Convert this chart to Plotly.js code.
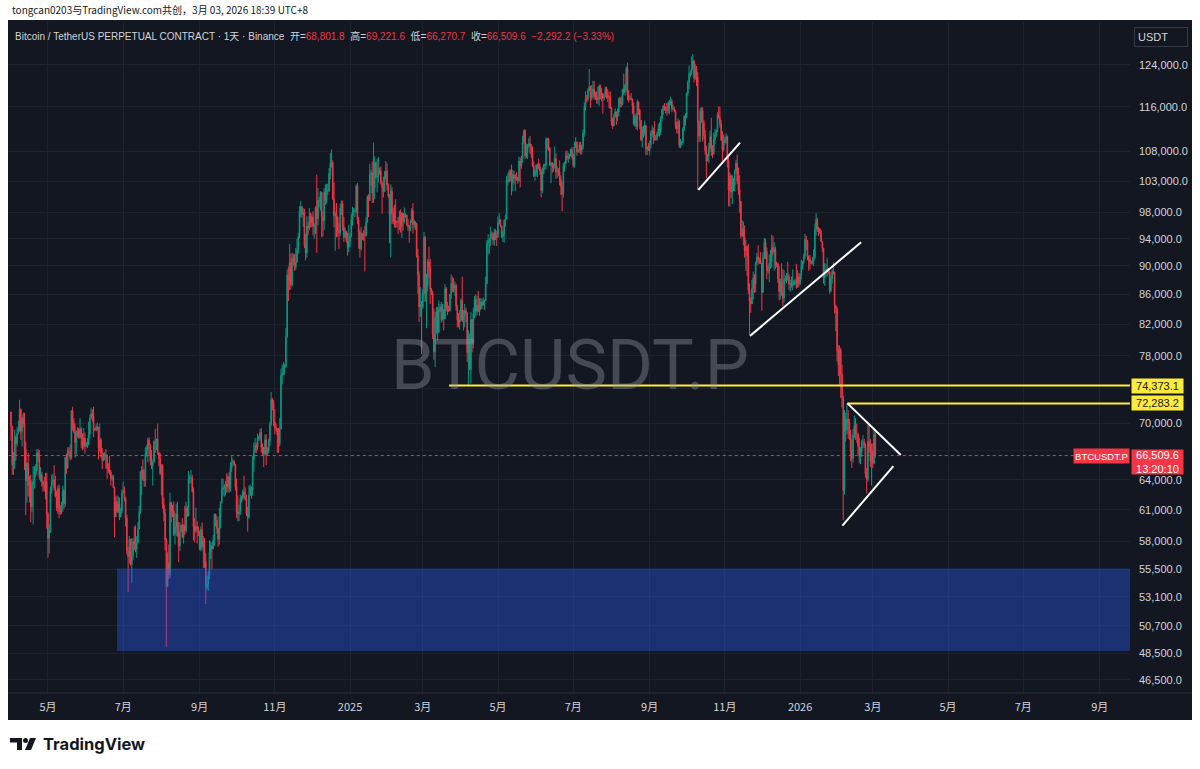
<!DOCTYPE html>
<html>
<head>
<meta charset="utf-8">
<script src="https://cdn.plot.ly/plotly-3.0.1.min.js"></script>
<style>
  html,body{margin:0;padding:0;background:#ffffff;}
  #chart{width:1200px;height:769px;}
</style>
</head>
<body>
<div id="chart"></div>
<script>
// ---------- DATA (daily candles, prices in thousands of USDT) ----------
const startDate = '2024-04-01';
const firstOpenK = 71.3;

const closeK = [
// 2024-04
69.7,65.5,65.9,68.5,67.8,68.9,69.4,71.6,69.1,70.6,70.0,67.2,63.9,65.7,63.4,63.8,61.3,63.5,63.8,64.9,64.9,66.8,66.4,64.3,64.5,63.8,63.5,63.1,63.8,60.6,
// 2024-05
58.3,59.1,62.9,63.9,64.0,63.2,62.3,61.2,63.1,60.8,60.8,61.5,62.9,61.6,66.3,65.2,67.0,66.9,66.3,71.4,70.1,69.1,67.9,68.5,69.3,68.5,69.4,68.4,67.6,68.4,67.5,
// 2024-06
67.8,67.8,68.8,70.6,71.1,70.8,69.3,69.3,69.6,69.5,67.3,68.2,66.8,66.0,66.2,66.6,66.5,65.2,65.0,64.8,64.1,64.3,63.2,60.3,61.8,60.8,61.6,60.3,60.9,62.7,
// 2024-07
62.9,62.1,60.2,57.1,56.6,58.2,55.9,56.7,58.0,57.7,57.3,57.9,59.2,60.8,64.8,65.0,64.1,63.9,66.7,67.1,68.2,67.6,65.9,65.4,65.8,68.0,67.9,68.3,66.8,66.2,64.6,
// 2024-08
65.4,61.5,60.7,58.1,54.0,56.0,55.0,61.7,60.9,60.9,58.7,59.4,60.6,58.7,57.6,58.9,59.5,58.4,59.5,59.0,61.2,60.4,64.1,64.2,64.2,62.8,59.4,59.0,59.4,59.1,58.9,
// 2024-09
57.3,59.1,57.5,58.0,56.2,53.9,54.2,54.9,57.0,57.6,57.3,58.1,60.6,60.0,59.2,58.2,60.3,61.8,63.0,63.2,63.3,63.6,63.3,64.3,63.1,65.2,65.8,65.9,65.6,63.3,
// 2024-10
60.8,60.6,60.8,62.1,62.1,62.8,62.2,62.1,60.6,60.3,62.4,63.2,62.9,66.1,67.0,67.6,67.4,68.4,68.4,69.0,67.4,67.4,66.7,68.2,66.6,67.0,68.0,69.9,72.7,72.3,70.2,
// 2024-11
69.5,69.4,68.7,67.8,69.4,75.6,75.9,76.5,76.7,80.4,88.7,87.9,90.5,87.3,91.1,90.6,89.8,90.5,92.3,94.3,98.3,98.9,97.7,98.0,93.0,91.9,95.9,95.6,97.5,96.4,
// 2024-12
97.3,95.9,96.0,98.8,97.0,99.9,99.9,101.2,97.4,96.7,101.2,100.0,101.5,101.4,104.3,106.1,106.1,100.2,97.5,97.8,97.3,95.2,94.9,98.7,99.4,95.8,94.2,95.1,93.7,92.8,93.6,
// 2025-01
94.4,96.9,98.1,98.2,98.3,102.2,96.9,95.0,92.5,94.7,94.5,94.5,94.5,96.5,100.5,99.9,104.1,104.4,101.1,102.0,106.1,103.7,103.9,104.8,104.7,102.6,102.0,101.3,103.7,104.7,102.4,
// 2025-02
100.6,97.7,101.4,97.9,96.6,96.5,96.5,96.5,96.5,97.4,95.8,97.9,96.6,97.5,97.6,96.1,95.8,95.6,96.6,98.3,96.1,96.6,96.3,91.5,88.7,84.3,84.7,84.3,
// 2025-03
86.1,94.2,86.1,87.2,90.6,89.9,86.7,86.2,80.7,78.5,82.9,83.7,81.0,83.9,84.3,82.6,84.0,82.7,86.8,84.2,84.0,83.8,86.0,87.5,87.4,86.9,87.2,84.4,82.6,82.3,82.5,
// 2025-04
85.2,82.5,83.1,83.8,83.5,78.4,79.2,76.3,82.6,79.6,83.4,85.3,83.7,84.6,83.7,84.0,84.9,84.5,85.1,85.2,87.5,93.4,93.7,93.9,94.7,94.6,93.8,94.9,94.3,94.2,
// 2025-05
96.5,96.9,95.9,94.3,94.7,96.8,97.0,103.2,103.0,104.6,104.1,102.8,104.1,103.5,103.7,103.5,103.1,106.4,105.6,106.8,109.6,111.7,107.3,107.8,109.0,109.4,108.9,107.8,105.6,103.9,104.6,
// 2025-06
105.7,105.9,105.4,104.7,101.5,104.3,105.6,105.7,110.2,110.2,108.6,105.7,106.1,105.4,105.5,106.8,104.6,104.8,104.6,103.3,102.1,100.9,105.5,106.0,107.3,106.9,107.1,107.3,108.4,107.1,
// 2025-07
105.7,108.8,109.6,108.0,108.2,109.2,108.2,108.9,111.3,116.0,117.5,117.4,119.1,119.8,117.7,118.7,119.3,117.9,117.9,117.3,117.4,119.9,118.7,118.4,117.6,117.9,119.4,118.1,117.9,117.8,115.8,
// 2025-08
113.3,112.5,114.2,115.1,114.1,115.0,117.5,116.6,116.5,119.3,118.7,120.1,123.3,118.3,117.4,117.5,117.4,116.2,112.9,114.3,112.4,116.9,115.4,113.5,110.1,111.8,111.2,112.6,108.4,108.8,108.2,
// 2025-09
109.2,111.2,111.7,110.7,110.2,110.2,111.1,112.0,111.5,113.9,115.5,116.1,115.9,115.3,115.3,116.7,116.4,117.1,115.6,115.7,115.2,112.6,112.0,113.3,109.0,109.6,109.6,112.1,114.3,114.0,
// 2025-10
118.6,120.6,122.3,122.4,123.5,124.8,121.4,123.3,121.7,113.2,110.7,115.2,115.3,113.1,110.8,108.2,106.4,107.2,108.6,110.6,108.5,107.6,110.1,111.0,111.7,114.5,114.1,112.9,110.0,108.3,109.6,
// 2025-11
110.1,110.6,106.5,101.5,103.9,101.3,103.4,102.3,104.7,106.0,103.0,101.6,99.7,94.4,95.5,94.2,92.2,92.9,91.5,86.6,85.1,84.7,86.8,88.3,87.4,90.5,91.3,90.9,90.8,90.4,
// 2025-12
86.3,91.3,93.5,92.1,89.4,89.3,90.4,90.6,92.7,92.0,92.5,90.3,90.3,88.2,86.4,87.8,86.2,85.5,88.1,88.3,88.6,88.5,87.4,87.6,87.2,87.3,87.8,87.9,87.1,88.4,87.5,
// 2026-01
88.7,90.0,90.6,91.4,93.9,93.7,91.3,91.0,90.5,90.4,90.8,91.2,95.4,96.9,95.5,95.5,95.1,93.6,92.6,88.3,89.4,89.5,89.5,89.2,86.5,88.2,89.2,89.1,84.5,84.1,78.6,
// 2026-02
76.9,78.7,75.7,73.0,62.9,70.5,69.3,70.5,70.1,68.8,67.0,66.2,68.8,69.8,68.8,68.8,67.5,66.4,66.9,67.9,68.0,67.6,64.6,64.0,68.0,67.5,65.9,67.0,
// 2026-03
65.7,68.8018,66.5096
];

const highK = [
// 2024-04
71.3,69.7,66.9,69.3,68.7,69.6,70.3,72.7,71.7,71.0,71.2,71.2,68.0,65.8,66.8,64.4,64.5,64.0,65.4,65.4,65.6,67.2,67.2,67.1,65.3,64.8,63.9,64.3,64.7,64.7,
// 2024-05
60.8,59.6,63.3,64.5,64.6,65.5,64.4,62.9,63.4,63.5,61.4,61.8,63.4,63.1,66.4,66.7,67.4,67.4,67.7,71.5,71.9,70.6,70.0,69.2,69.6,69.5,70.6,69.6,68.9,69.5,69.0,
// 2024-06
68.0,68.4,70.2,71.0,71.8,71.6,71.9,69.5,69.9,70.1,69.6,70.0,68.4,67.3,66.8,66.9,67.2,66.6,65.7,66.5,65.0,64.5,64.5,63.3,62.3,62.4,62.3,62.2,61.2,63.0,
// 2024-07
63.8,63.3,62.3,60.5,57.5,58.5,58.2,58.3,58.3,59.4,59.5,58.5,59.8,61.4,64.9,65.4,66.1,65.1,67.4,67.6,68.4,68.5,67.8,67.1,66.1,68.2,69.4,68.3,70.0,66.9,66.8,
// 2024-08
65.6,65.6,62.2,61.1,58.3,57.0,57.7,62.7,61.8,61.5,61.8,60.7,61.6,61.8,59.8,59.8,59.6,60.2,59.6,61.4,61.8,61.4,64.9,64.5,65.0,64.5,63.2,60.2,61.2,59.9,59.4,
// 2024-09
59.0,59.4,59.8,58.5,58.3,56.9,54.9,55.3,58.1,58.0,57.9,58.6,60.6,60.6,60.4,59.2,61.2,61.8,64.1,64.1,63.5,63.9,64.7,64.5,64.8,65.8,66.5,66.2,66.0,65.6,
// 2024-10
64.1,62.4,61.5,62.5,62.4,63.0,64.4,63.2,62.5,61.3,63.4,63.5,63.3,66.5,67.9,68.4,67.9,68.9,68.7,69.4,69.5,67.8,67.4,68.8,68.8,67.4,68.3,70.2,73.6,72.9,72.7,
// 2024-11
71.6,70.0,69.5,69.5,70.6,76.4,76.9,77.2,77.0,81.5,89.5,89.9,93.2,91.8,91.9,91.8,91.7,92.6,94.0,94.9,99.0,99.8,99.0,98.7,98.6,94.7,97.4,96.6,98.7,98.0,
// 2024-12
97.8,98.2,96.3,99.0,104.1,101.9,100.5,101.4,101.3,98.2,101.9,102.5,102.6,102.6,105.2,107.8,108.4,106.5,102.8,98.2,99.5,97.4,96.4,99.4,99.9,99.9,97.3,95.7,95.2,94.9,96.1,
// 2025-01
94.9,97.8,98.9,98.7,98.8,102.5,102.7,97.3,95.3,95.8,94.9,95.3,95.9,97.3,100.7,100.9,105.9,104.9,106.3,109.6,107.2,106.3,106.8,107.1,105.3,105.5,103.0,103.8,104.7,106.4,106.0,
// 2025-02
102.7,100.9,102.5,102.0,98.8,99.2,100.1,96.8,97.3,98.3,98.5,98.1,97.3,98.8,97.9,97.7,97.0,96.0,96.9,98.7,99.5,96.9,96.6,96.4,92.5,89.2,87.0,85.1,
// 2025-03
86.7,95.0,94.4,88.9,91.0,92.8,91.0,86.9,86.5,84.1,83.6,84.3,84.3,85.2,84.7,85.0,84.7,84.0,87.4,87.0,85.0,84.5,86.1,88.8,88.5,88.3,87.8,87.5,84.6,83.5,83.9,
// 2025-04
85.5,88.5,83.9,84.7,84.2,83.6,81.2,80.8,83.6,82.7,84.2,85.8,86.0,85.8,86.5,85.5,85.5,85.4,85.6,85.3,88.5,93.8,94.7,94.0,95.8,95.1,95.0,95.5,95.4,95.2,
// 2025-05
97.4,97.9,96.9,96.0,95.2,96.9,97.7,103.9,104.3,104.9,105.0,105.8,104.9,104.7,104.2,104.5,103.7,107.1,107.0,107.3,110.8,111.9,111.9,109.4,109.3,110.4,110.7,109.3,108.9,106.3,105.0,
// 2025-06
105.8,105.9,106.8,106.0,105.0,105.3,105.9,106.0,110.5,110.4,110.4,108.8,106.2,106.2,106.0,108.9,107.7,105.5,105.2,106.5,104.0,103.0,106.1,106.3,108.1,108.2,107.8,107.6,108.5,108.8,
// 2025-07
107.6,109.7,110.5,109.8,108.4,109.7,109.7,109.2,111.9,116.8,118.9,118.2,119.5,123.2,119.9,120.1,120.9,120.9,118.8,118.9,119.7,120.2,120.2,119.5,118.6,118.5,119.8,119.8,119.3,118.8,118.9,
// 2025-08
116.0,114.0,114.7,115.7,115.1,115.7,117.7,117.9,117.9,119.3,122.3,120.3,123.7,124.5,119.2,118.0,118.6,117.6,116.8,114.6,114.8,117.4,117.0,115.6,113.6,112.4,112.6,113.5,112.6,108.9,109.5,
// 2025-09
109.9,111.7,112.6,112.2,113.4,110.9,111.5,112.9,113.2,114.3,115.6,116.3,116.7,116.1,116.7,117.0,117.3,117.9,117.5,116.4,116.0,115.4,113.3,113.9,113.6,110.2,109.8,112.3,114.4,114.8,
// 2025-10
118.7,121.0,123.9,122.9,125.7,126.2,125.1,124.2,123.8,122.6,113.5,115.8,116.0,115.9,113.6,111.8,109.0,107.6,109.5,111.7,114.0,109.1,111.3,112.0,111.8,115.0,116.1,116.0,113.6,111.6,111.0,
// 2025-11
110.6,111.2,110.8,107.3,104.5,104.2,104.0,103.5,105.0,106.6,107.5,105.3,104.0,99.8,96.8,96.6,96.0,93.8,92.9,93.2,87.5,85.6,88.0,89.2,88.8,90.6,91.9,93.0,91.2,92.0,
// 2025-12
90.4,92.0,94.1,94.0,92.7,90.0,91.7,92.3,94.6,94.4,93.5,92.8,90.6,90.5,90.0,88.2,90.4,89.5,89.4,88.6,89.0,90.6,88.9,88.0,88.5,89.5,88.0,88.2,90.3,89.4,89.0,
// 2026-01
88.9,90.9,90.7,91.8,94.7,94.4,93.6,91.5,91.6,90.8,91.3,92.4,96.3,97.9,97.2,95.8,95.6,95.3,93.5,92.6,90.4,90.3,91.2,89.7,89.2,88.6,89.5,90.5,89.2,84.6,84.3,
// 2026-02
79.3,79.3,79.0,76.9,73.2,71.5,71.2,72.28,71.5,70.5,69.3,68.3,69.4,70.9,70.6,70.0,69.0,68.4,67.4,68.2,68.7,68.3,67.8,65.2,69.9,70.0,68.3,67.8,
// 2026-03
67.8,69.5,69.2216
];

const lowK = [
// 2024-04
68.1,64.5,64.5,65.1,66.0,67.5,68.8,69.1,68.2,67.5,69.6,65.0,60.5,61.7,62.3,61.7,59.8,60.8,59.6,63.1,64.3,64.5,65.8,64.0,63.8,63.3,62.8,62.8,62.0,59.2,
// 2024-05
56.5,56.9,58.8,62.6,63.4,62.9,62.2,60.9,60.6,60.2,60.5,60.6,60.8,61.1,61.3,64.6,65.1,66.6,66.0,66.1,69.2,68.9,66.3,66.6,68.5,68.3,68.3,67.3,67.1,67.2,66.7,
// 2024-06
67.4,67.3,67.6,68.4,70.4,70.2,68.5,69.2,69.1,69.2,66.1,66.9,66.3,65.1,65.9,66.0,65.1,64.1,64.7,64.5,63.4,63.9,63.2,58.4,60.3,60.7,60.7,60.0,60.4,60.7,
// 2024-07
62.6,61.8,59.4,56.8,53.5,56.0,55.8,54.3,56.3,57.2,57.0,56.5,57.8,59.5,60.6,62.4,63.9,63.3,63.3,66.4,65.8,66.6,65.5,65.1,63.4,65.8,66.8,67.1,66.6,65.4,64.5,
// 2024-08
62.4,61.1,59.9,57.2,49.0,54.0,54.6,54.7,59.8,60.3,58.5,57.7,58.5,58.4,56.1,57.1,58.9,58.3,57.8,58.6,58.8,60.3,60.4,63.6,63.6,62.7,58.1,57.9,58.8,57.8,58.5,
// 2024-09
57.2,57.1,57.2,55.6,55.6,52.5,53.7,53.6,54.6,56.4,55.5,57.3,57.6,59.4,58.7,57.5,57.7,59.2,61.6,62.4,62.3,62.4,62.7,62.7,62.7,62.8,64.8,65.4,65.4,62.9,
// 2024-10
60.2,59.9,59.9,60.5,61.7,61.9,62.1,61.9,60.4,58.9,60.1,62.4,62.1,62.4,64.8,66.8,66.8,67.1,68.1,68.1,66.8,66.6,65.3,66.5,65.5,66.6,66.8,67.5,69.7,71.5,69.7,
// 2024-11
68.8,69.1,66.8,66.8,67.5,69.3,74.5,75.6,75.7,76.5,80.2,85.1,86.6,86.7,87.1,90.1,89.3,89.4,90.9,91.8,94.1,97.2,97.2,95.8,92.6,90.8,91.2,94.6,95.3,95.7,
// 2024-12
95.7,94.5,94.0,94.7,91.9,96.0,98.8,98.3,94.2,94.3,95.3,99.2,99.4,100.8,101.3,103.3,105.3,100.0,95.7,92.2,94.2,94.3,92.5,94.4,97.6,95.2,93.5,94.1,93.4,91.5,92.0,
// 2025-01
92.7,94.2,96.0,97.5,97.3,97.9,96.2,92.5,91.2,92.2,93.8,93.7,89.2,94.3,96.5,97.3,100.0,102.3,99.5,99.5,100.1,103.4,101.2,102.8,104.1,102.5,97.8,100.4,101.3,103.3,101.5,
// 2025-02
100.3,93.3,91.2,96.2,96.2,95.7,95.6,95.7,94.7,95.3,94.9,94.1,95.2,96.3,97.2,96.0,95.2,93.4,95.1,96.4,94.8,95.6,95.3,91.2,86.1,82.3,83.0,78.2,
// 2025-03
84.0,85.0,85.0,81.5,86.4,88.3,84.7,85.9,80.1,77.5,76.6,80.8,79.9,80.8,83.6,82.2,82.5,81.2,82.7,83.7,83.2,83.6,83.7,85.4,86.3,86.3,85.8,83.8,81.6,81.6,81.3,
// 2025-04
82.4,82.3,81.2,81.6,82.3,77.2,74.37,76.2,74.6,78.4,78.9,82.8,83.0,83.2,83.6,83.1,83.9,84.0,84.5,83.9,85.1,87.6,91.7,91.7,92.9,93.9,93.1,92.9,93.8,92.9,
// 2025-05
94.2,96.2,95.7,94.1,93.5,93.4,95.8,96.9,102.3,102.8,103.1,100.7,101.4,102.5,101.4,103.1,102.6,103.0,102.0,105.1,106.1,109.3,106.7,106.9,106.7,108.7,107.6,106.9,105.4,103.7,103.1,
// 2025-06
103.8,103.7,105.0,104.1,100.4,101.1,104.2,104.9,105.1,108.3,108.1,105.6,102.7,104.4,104.6,105.1,103.4,103.6,103.9,102.3,100.8,98.2,100.4,104.6,105.9,106.5,106.1,106.7,107.2,106.7,
// 2025-07
105.3,105.3,108.6,107.3,107.8,107.8,107.5,107.5,108.4,110.6,115.3,116.8,117.0,118.9,115.8,117.2,117.6,117.3,117.3,116.6,116.5,116.2,117.4,117.0,114.7,117.2,117.8,117.5,116.9,115.8,115.6,
// 2025-08
112.6,112.0,112.7,114.0,112.7,113.4,114.3,115.9,115.9,116.3,118.2,118.1,118.9,117.2,116.8,117.2,117.2,114.7,112.6,112.4,111.9,111.7,114.5,112.0,109.8,108.7,110.5,110.8,107.4,107.4,108.1,
// 2025-09
107.3,108.6,110.5,109.3,109.9,109.9,109.9,110.7,110.6,110.9,113.3,114.5,115.3,114.8,114.4,114.8,114.6,116.3,115.0,115.4,115.0,112.0,111.2,111.1,108.6,108.6,109.0,109.2,111.6,112.6,
// 2025-10
113.9,118.0,119.3,121.6,122.0,123.0,120.6,121.1,119.9,101.6,109.6,109.7,113.1,109.7,110.1,107.5,103.5,106.4,106.1,108.0,107.3,106.9,107.5,109.3,110.5,111.4,113.8,112.2,109.9,106.3,108.0,
// 2025-11
109.2,109.5,105.3,99.0,98.9,100.3,99.3,101.4,101.4,104.3,102.5,100.8,98.0,94.0,94.6,93.0,91.2,89.3,88.6,86.1,80.6,83.5,84.7,85.3,86.2,86.3,90.1,90.2,90.3,90.3,
// 2025-12
83.8,86.2,91.0,91.0,88.1,88.9,87.7,89.6,89.8,91.6,89.3,89.6,89.8,87.6,85.2,85.3,85.8,84.4,84.9,87.8,87.6,87.9,86.6,86.4,86.9,86.6,87.3,87.4,86.8,86.9,87.0,
// 2026-01
87.3,88.1,89.5,90.3,91.0,92.3,90.8,89.3,89.5,90.2,90.2,90.0,91.0,94.5,95.0,94.4,94.7,93.5,92.0,87.5,87.2,88.5,88.5,88.9,86.1,86.3,87.5,88.8,83.4,81.1,77.3,
// 2026-02
75.5,74.5,72.9,71.8,60.0,62.5,68.0,68.8,68.3,68.2,65.9,65.2,65.8,68.4,68.2,67.9,66.6,65.7,65.6,66.4,67.3,67.3,64.2,62.6,63.8,66.8,65.3,63.4,
// 2026-03
65.2,65.6,66.2707
];

// Price scale ticks (labels hidden where the price tags cover them)
const yTickVals = [124000,116000,108000,103000,98000,94000,90000,86000,82000,78000,74000,70000,67000,64000,61000,58000,55500,53100,50700,48500,46500];
const yTickHidden = [74000, 67000];
// Time scale ticks
const xTickVals = ['2024-05-01','2024-07-01','2024-09-01','2024-11-01','2025-01-01','2025-03-01','2025-05-01','2025-07-01','2025-09-01','2025-11-01','2026-01-01','2026-03-01','2026-05-01','2026-07-01','2026-09-01'];
const xTickText = ['5月','7月','9月','11月','2025','3月','5月','7月','9月','11月','2026','3月','5月','7月','9月'];

// Drawings (date, price)
const zoneBox = {from:'2024-06-26', to:'2027-01-01', top:55550, bottom:48700};
const hLines = [
  {from:'2025-03-22 08:00', price:74373.1},
  {from:'2026-02-08 10:00', price:72283.2}
];
const trendLines = [
  [['2025-10-10 12:00', 101600], ['2025-11-13 08:00', 109560]],
  [['2025-11-21 10:00', 80500],  ['2026-02-19 12:00', 93460]],
  [['2026-02-08 10:00', 72283.2],['2026-03-23 16:00', 66570]],
  [['2026-02-04 08:00', 59470],  ['2026-03-17 16:00', 65410]]
];
const lastPrice = 66509.6;

// ---------- BUILD ----------
const n = closeK.length;
const dates = [];
const d0 = Date.parse(startDate + 'T00:00:00Z');
for (let i = 0; i < n; i++) dates.push(new Date(d0 + i * 86400000).toISOString().slice(0, 10));
const close = closeK.map(v => v * 1000);
const high = highK.map(v => v * 1000);
const low = lowK.map(v => v * 1000);
const open = closeK.map((c, i) => (i === 0 ? firstOpenK : closeK[i - 1]) * 1000);

const UP = '#089981', DOWN = '#f23645';
const traces = [{
  type: 'candlestick', x: dates, open: open, high: high, low: low, close: close,
  increasing: {line: {color: UP, width: 1}, fillcolor: UP},
  decreasing: {line: {color: DOWN, width: 1}, fillcolor: DOWN},
  whiskerwidth: 0, hoverinfo: 'skip', showlegend: false
}];
traces.push({
  type: 'scatter', mode: 'lines',
  x: [zoneBox.from, zoneBox.to, zoneBox.to, zoneBox.from, zoneBox.from],
  y: [zoneBox.top, zoneBox.top, zoneBox.bottom, zoneBox.bottom, zoneBox.top],
  fill: 'toself', fillcolor: 'rgba(41,98,255,0.36)', line: {width: 0}, hoverinfo: 'skip', showlegend: false
});
hLines.forEach(h => traces.push({
  type: 'scatter', mode: 'lines', x: [h.from, '2027-01-01'], y: [h.price, h.price],
  line: {color: '#ffeb3b', width: 2}, hoverinfo: 'skip', showlegend: false
}));
trendLines.forEach(t => traces.push({
  type: 'scatter', mode: 'lines', x: [t[0][0], t[1][0]], y: [t[0][1], t[1][1]],
  line: {color: '#ffffff', width: 2}, hoverinfo: 'skip', showlegend: false
}));
traces.push({
  type: 'scatter', mode: 'lines', x: ['2024-03-01', '2027-01-01'], y: [lastPrice, lastPrice],
  line: {color: DOWN, width: 1, dash: 'dot'}, hoverinfo: 'skip', showlegend: false
});

// pixel helpers for decorations
const PL = 8, PR = 1130, PT = 22, PB = 693;
const xp = px => (px - PL) / (PR - PL);
const yp = py => (PB - py) / (PB - PT);
const fmt = v => v.toLocaleString('en-US', {minimumFractionDigits: 1, maximumFractionDigits: 1});
const lg = v => Math.log10(v);

const red = s => '<span style="color:#f23645">' + s + '</span>';
const headerText = 'Bitcoin / TetherUS PERPETUAL CONTRACT · 1天 · Binance&nbsp;&nbsp;开=' + red('68,801.8') +
  '&nbsp;&nbsp;高=' + red('69,221.6') + '&nbsp;&nbsp;低=' + red('66,270.7') + '&nbsp;&nbsp;收=' + red('66,509.6') +
  '&nbsp;&nbsp;' + red('−2,292.2 (−3.33%)');

const annotations = [
  {xref:'paper', yref:'paper', x: xp(10), y: yp(10), xanchor:'left', yanchor:'middle', showarrow:false,
   text:'tongcan0203与TradingView.com共创，3月 03, 2026 18:39 UTC+8',
   font:{family:'Noto Sans CJK SC, sans-serif', size:10, color:'#131722'}},
  {xref:'paper', yref:'paper', x: xp(13), y: yp(36), xanchor:'left', yanchor:'middle', showarrow:false,
   text: headerText, font:{family:'Liberation Sans, Noto Sans CJK SC, sans-serif', size:10, color:'#d1d4dc'}},
  {xref:'paper', yref:'paper', x: xp(570), y: yp(365), xanchor:'center', yanchor:'middle', showarrow:false,
   text:'BTCUSDT.P', font:{family:'Roboto, sans-serif', size:70, color:'rgba(150,154,166,0.38)'}},
  {xref:'paper', yref:'paper', x: xp(1160.5), y: yp(37), xanchor:'center', yanchor:'middle', showarrow:false,
   text:'USDT', font:{family:'Liberation Sans, sans-serif', size:11, color:'#d1d4dc'},
   bgcolor:'#131722', bordercolor:'#363a45', borderwidth:1, borderpad:3, width:46, height:12, align:'left'},
  {xref:'paper', yref:'y', x: xp(1157), y: lg(hLines[0].price), xanchor:'center', yanchor:'middle', showarrow:false,
   text: fmt(hLines[0].price), font:{family:'Liberation Sans, sans-serif', size:11, color:'#131722'},
   bgcolor:'#ffeb3b', borderpad:1, width:49, height:12},
  {xref:'paper', yref:'y', x: xp(1157), y: lg(hLines[1].price), xanchor:'center', yanchor:'middle', showarrow:false,
   text: fmt(hLines[1].price), font:{family:'Liberation Sans, sans-serif', size:11, color:'#131722'},
   bgcolor:'#ffeb3b', borderpad:1, width:49, height:12},
  {xref:'paper', yref:'y', x: xp(1101.5), y: lg(lastPrice), xanchor:'center', yanchor:'middle', showarrow:false,
   text:'BTCUSDT.P', font:{family:'Liberation Sans, sans-serif', size:9.5, color:'#ffffff'},
   bgcolor:'#f23645', borderpad:1, width:53, height:12},
  {xref:'paper', yref:'y', x: xp(1157), y: lg(lastPrice), xanchor:'center', yanchor:'top', yshift:7, showarrow:false,
   text: fmt(lastPrice) + '<br>13:20:10', font:{family:'Liberation Sans, sans-serif', size:11, color:'#ffffff'},
   bgcolor:'#f23645', borderpad:1, width:49, height:22},
  {xref:'paper', yref:'paper', x: xp(41), y: yp(744), xanchor:'left', yanchor:'middle', showarrow:false,
   text:'<b>TradingView</b>', font:{family:'Inter, Roboto, sans-serif', size:16.5, color:'#131722'}}
];

const shapes = [
  {type:'rect', xref:'paper', yref:'paper', x0:xp(8), x1:xp(1192), y0:yp(720), y1:yp(20), fillcolor:'#131722', line:{width:0}, layer:'below'},
  {type:'line', xref:'paper', yref:'paper', x0:xp(8), x1:xp(1192), y0:yp(693), y1:yp(693), line:{color:'#2a2e39', width:1}},
  // TradingView logo mark
  {type:'path', xref:'paper', yref:'paper', fillcolor:'#131722', line:{width:0},
   path:`M${xp(10)},${yp(738)} L${xp(22)},${yp(738)} L${xp(22)},${yp(750)} L${xp(17)},${yp(750)} L${xp(17)},${yp(742.5)} L${xp(10)},${yp(742.5)} Z`},
  {type:'circle', xref:'paper', yref:'paper', fillcolor:'#131722', line:{width:0},
   x0:xp(23), x1:xp(28), y0:yp(743), y1:yp(738)},
  {type:'path', xref:'paper', yref:'paper', fillcolor:'#131722', line:{width:0},
   path:`M${xp(30)},${yp(738)} L${xp(36)},${yp(738)} L${xp(31)},${yp(750)} L${xp(25)},${yp(750)} Z`}
];

const layout = {
  width:1200, height:769,
  margin:{l:PL, r:1200-PR, t:PT, b:769-PB, pad:0},
  paper_bgcolor:'#ffffff', plot_bgcolor:'#131722',
  showlegend:false, dragmode:false, hovermode:false,
  xaxis:{type:'date', range:['2024-03-29 14:00','2026-09-25 14:00'],
    tickmode:'array', tickvals:xTickVals, ticktext:xTickText,
    showgrid:true, gridcolor:'#1e222d', gridwidth:1, zeroline:false, showline:false, ticks:'',
    ticklabelstandoff:6,
    tickfont:{family:'Noto Sans CJK SC, sans-serif', size:11, color:'#d1d4dc'},
    rangeslider:{visible:false}, fixedrange:true},
  yaxis:{type:'log', side:'right', range:[4.65843, 5.12320],
    tickmode:'array', tickvals:yTickVals,
    ticktext:yTickVals.map(v => yTickHidden.includes(v) ? '' : fmt(v)),
    showgrid:true, gridcolor:'#1e222d', gridwidth:1, zeroline:false, showline:false, ticks:'',
    ticklabelstandoff:8,
    tickfont:{family:'Liberation Sans, sans-serif', size:11, color:'#d1d4dc'}, fixedrange:true},
  shapes: shapes,
  annotations: annotations
};

Plotly.newPlot('chart', traces, layout, {staticPlot:true, displayModeBar:false});
</script>
</body>
</html>
